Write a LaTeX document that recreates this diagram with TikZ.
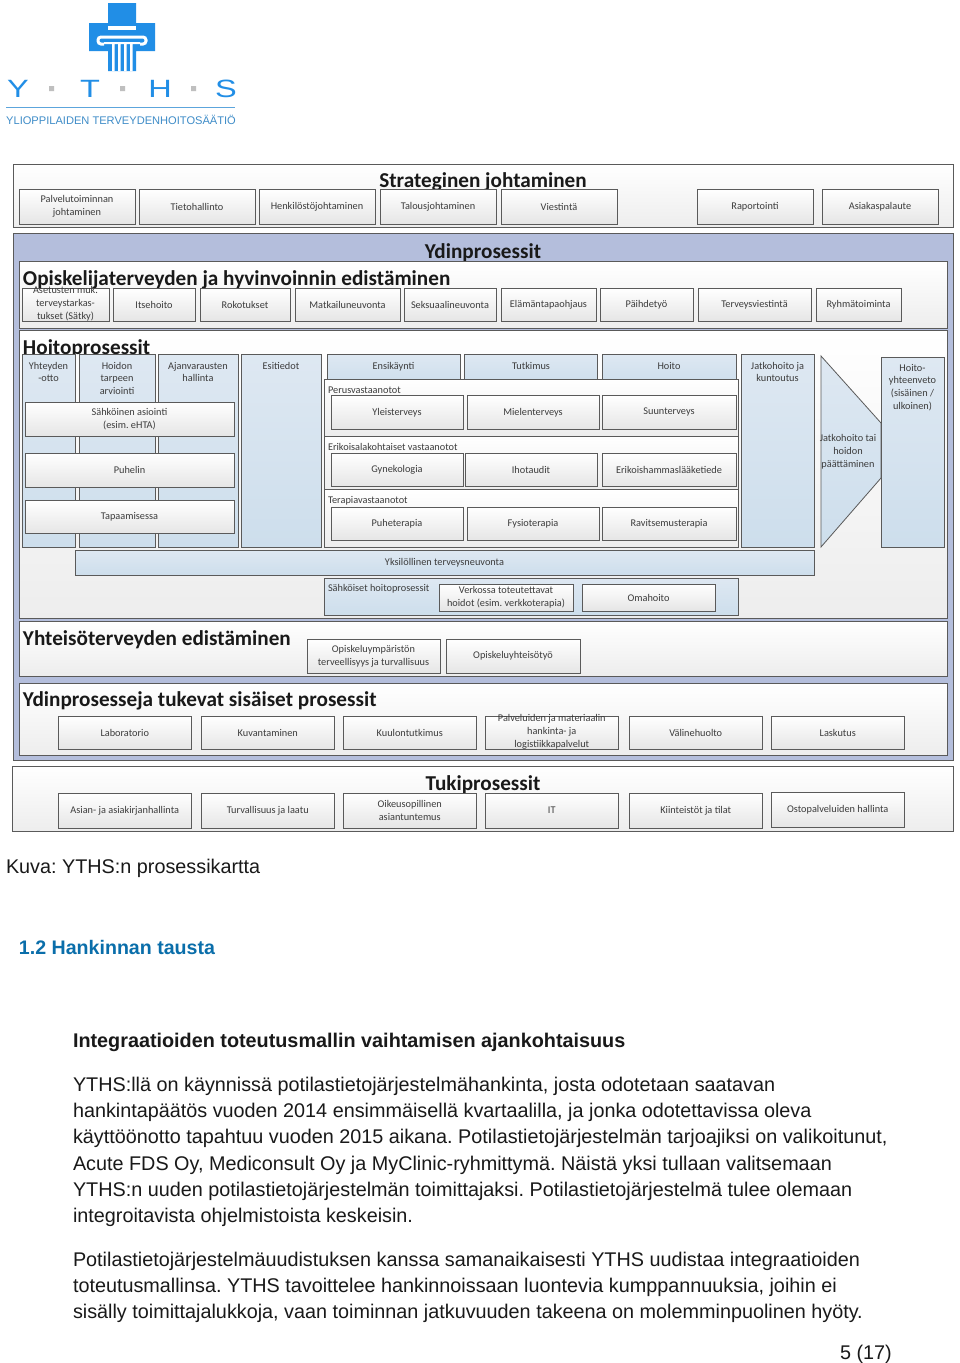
\documentclass[tikz,border=0pt]{standalone}
\usepackage{xcolor}
\usepackage{fontspec}
\setmainfont{Liberation Sans}
\newfontfamily\calibri{Carlito}
\usetikzlibrary{positioning}
\definecolor{ythsblue}{RGB}{33,142,230}
\definecolor{ythsline}{RGB}{92,165,220}
\definecolor{ythstext}{RGB}{62,140,200}
\definecolor{coreblue}{RGB}{180,190,220}
\definecolor{colblue}{RGB}{205,222,236}
\definecolor{collight}{RGB}{222,232,242}
\definecolor{labelgray}{RGB}{60,60,60}
\definecolor{edgegray}{RGB}{90,90,90}
\definecolor{headblue}{RGB}{10,110,170}
\frenchspacing
\begin{document}
\begin{tikzpicture}[x=1pt, y=-1pt, node distance=0pt,
  panel/.style={rectangle, draw=edgegray, line width=0.8pt, top color=white, bottom color=black!7, inner sep=0pt, outer sep=0pt, anchor=north west},
  pbox/.style={rectangle, draw=edgegray, line width=0.8pt, top color=white, bottom color=black!10, inner sep=0pt, outer sep=0pt, align=center, anchor=north west, text=labelgray, font=\calibri\fontsize{10.3}{12.8}\selectfont},
  colbox/.style={pbox, top color=collight, bottom color=colblue},
  lbl/.style={inner sep=0pt, outer sep=0pt, align=center, text=labelgray, font=\calibri\fontsize{10.3}{12.8}\selectfont},
  head/.style={inner sep=0pt, outer sep=0pt, text=black!90, font=\calibri\bfseries\fontsize{21.2}{23}\selectfont},
  strat/.style={pbox, minimum width=116pt, minimum height=35pt},
  tall/.style={pbox, minimum width=132pt, minimum height=33.5pt},
  wide/.style={pbox, minimum width=133.5pt, minimum height=33pt},
  body/.style={inner sep=0pt, outer sep=0pt, anchor=base west, align=left, text=black!90, font=\fontsize{19.8}{26.25}\selectfont}
]
\useasboundingbox (0,0) rectangle (960,1363);
\fill[white] (0,0) rectangle (960,1363);
\fill[ythsblue] (108,3) rectangle (136,23) (89,23) rectangle (155,51) (108,51) rectangle (136,71);
\fill[white] (108,26) rectangle (136,30);
\draw[white, line width=3pt, rounded corners=3pt] (104,44) -- (98,44) -- (98,37) -- (146,37) -- (146,44) -- (140,44);
\fill[white] (104,42) rectangle (140,44) (112,42) rectangle (114.5,71) (118,42) rectangle (120.5,71) (124,42) rectangle (126.5,71) (130,42) rectangle (132.5,71);
\node[inner sep=0pt, text=ythsblue, xscale=1.3, font=\fontsize{25}{25}\selectfont] (logoy) at (18,89) {Y};
\node[inner sep=0pt, text=ythsblue, xscale=1.3, font=\fontsize{25}{25}\selectfont] (logot) at (90,89) {T};
\node[inner sep=0pt, text=ythsblue, xscale=1.3, font=\fontsize{25}{25}\selectfont] (logoh) at (160,89) {H};
\node[inner sep=0pt, text=ythsblue, xscale=1.3, font=\fontsize{25}{25}\selectfont] (logos) at (226,89) {S};
\fill[black!25] (49,86) rectangle (54,91) (120,86) rectangle (125,91) (191,86) rectangle (196,91);
\fill[ythsline] (6,106.5) rectangle (235,107.5);
\node[inner sep=0pt, anchor=west, text=ythstext, font=\fontsize{11.1}{12}\selectfont] (logotext) at (6,120) {YLIOPPILAIDEN TERVEYDENHOITOSÄÄTIÖ};

\node[panel, minimum width=940pt, minimum height=63pt] (strategy) at (13,164) {};
\node[head] (strategyhead) at (483,182) {Strateginen johtaminen};
\node[strat] (s1) at (19,189) {Palvelutoiminnan\\johtaminen};
\node[strat, right=4pt of s1] (s2) {Tietohallinto};
\node[strat, right=4pt of s2] (s3) {Henkilöstöjohtaminen};
\node[strat, right=5pt of s3] (s4) {Talousjohtaminen};
\node[strat, right=5pt of s4] (s5) {Viestintä};
\node[strat, right=80pt of s5] (s6) {Raportointi};
\node[strat, right=9pt of s6] (s7) {Asiakaspalaute};

\node[panel, top color=coreblue, bottom color=coreblue, minimum width=940pt, minimum height=527pt] (core) at (13,233) {};
\node[head] (corehead) at (483,253) {Ydinprosessit};

\node[panel, minimum width=928pt, minimum height=67pt] (student) at (19,261) {};
\node[head, anchor=west] (studenthead) at (23,279.5) {Opiskelijaterveyden ja hyvinvoinnin edistäminen};
\node[pbox, minimum width=87pt, minimum height=33pt] (o1) at (22,288) {\raisebox{-3.5pt}{\smash{\begin{tabular}[c]{@{}c@{}}Asetusten muk.\\terveystarkas-\\tukset (Sätky)\end{tabular}}}};
\node[pbox, minimum width=82pt, minimum height=33pt, right=4pt of o1] (o2) {Itsehoito};
\node[pbox, minimum width=90pt, minimum height=33pt, right=5pt of o2] (o3) {Rokotukset};
\node[pbox, minimum width=105pt, minimum height=33pt, right=5pt of o3] (o4) {Matkailuneuvonta};
\node[pbox, minimum width=92pt, minimum height=33pt, right=4pt of o4] (o5) {Seksuaalineuvonta};
\node[pbox, minimum width=95pt, minimum height=33pt, right=5pt of o5] (o6) {Elämäntapaohjaus};
\node[pbox, minimum width=93pt, minimum height=33pt, right=4pt of o6] (o7) {Päihdetyö};
\node[pbox, minimum width=113pt, minimum height=33pt, right=5pt of o7] (o8) {Terveysviestintä};
\node[pbox, minimum width=85pt, minimum height=33pt, right=5pt of o8] (o9) {Ryhmätoiminta};

\node[panel, minimum width=928pt, minimum height=288pt] (care) at (19,330) {};
\node[head, anchor=west] (carehead) at (23,348.5) {Hoitoprosessit};
\node[colbox, minimum width=53pt, minimum height=193pt] (c1) at (22,354) {};
\node[colbox, minimum width=76pt, minimum height=193pt] (c2) at (79,354) {};
\node[colbox, minimum width=80pt, minimum height=193pt] (c3) at (158,354) {};
\node[colbox, minimum width=80pt, minimum height=193pt] (c4) at (241,354) {};
\node[colbox, minimum width=133pt, minimum height=30pt] (c5) at (327,354) {};
\node[colbox, minimum width=133pt, minimum height=30pt] (c6) at (464.5,354) {};
\node[colbox, minimum width=134pt, minimum height=30pt] (c7) at (602,354) {};
\node[colbox, minimum width=73pt, minimum height=193pt] (c8) at (741,354) {};
\node[lbl, below=8pt of c1.north] (c1text) {Yhteyden\\-otto};
\node[lbl, below=8pt of c2.north] (c2text) {Hoidon\\tarpeen\\arviointi};
\node[lbl, below=8pt of c3.north] (c3text) {Ajanvarausten\\hallinta};
\node[lbl, below=8pt of c4.north] (c4text) {Esitiedot};
\node[lbl, below=8pt of c5.north] (c5text) {Ensikäynti};
\node[lbl, below=8pt of c6.north] (c6text) {Tutkimus};
\node[lbl, below=8pt of c7.north] (c7text) {Hoito};
\node[lbl, below=8pt of c8.north] (c8text) {Jatkohoito ja\\kuntoutus};
\node[pbox, minimum width=209pt, minimum height=34pt] (w1) at (25,402) {Sähköinen asiointi\\(esim. eHTA)};
\node[pbox, minimum width=209pt, minimum height=34pt] (w2) at (25,453) {Puhelin};
\node[pbox, minimum width=209pt, minimum height=33pt] (w3) at (25,500.5) {Tapaamisessa};

\node[panel, minimum width=414pt, minimum height=57pt] (g1) at (324,379) {};
\node[lbl, anchor=west] (g1text) at (328,390) {Perusvastaanotot};
\node[tall] (p1) at (331,395.5) {Yleisterveys};
\node[tall, right=4pt of p1] (p2) {Mielenterveys};
\node[tall, minimum width=134pt, right=3pt of p2] (p3) {Suunterveys};
\node[panel, minimum width=414pt, minimum height=52.5pt] (g2) at (324,436.5) {};
\node[lbl, anchor=west] (g2text) at (328,447) {Erikoisalakohtaiset vastaanotot};
\node[tall] (e1) at (331,453) {Gynekologia};
\node[tall, right=2pt of e1] (e2) {Ihotaudit};
\node[tall, minimum width=134pt, right=5pt of e2] (e3) {Erikoishammaslääketiede};
\node[panel, minimum width=414pt, minimum height=58pt] (g3) at (324,489) {};
\node[lbl, anchor=west] (g3text) at (328,501) {Terapiavastaanotot};
\node[tall] (t1) at (331,507) {Puheterapia};
\node[tall, right=4pt of t1] (t2) {Fysioterapia};
\node[tall, minimum width=134pt, right=3pt of t2] (t3) {Ravitsemusterapia};

\coordinate (arrowtop) at (821,356);
\coordinate (arrowbottom) at (821,547);
\draw[edgegray, line width=0.8pt, top color=collight, bottom color=colblue] (arrowtop) -- (881,423) -- (881,478) -- (arrowbottom) -- cycle;
\node[lbl] (arrowtext) at (848,451.5) {Jatkohoito tai\\hoidon\\päättäminen};
\node[colbox, minimum width=63pt, minimum height=190pt] (c9) at (881,357) {};
\node[lbl, below=7pt of c9.north] (c9text) {Hoito-\\yhteenveto\\(sisäinen /\\ulkoinen)};

\node[colbox, minimum width=739pt, minimum height=25pt] (advice) at (75,550) {Yksilöllinen terveysneuvonta};
\node[colbox, minimum width=414pt, minimum height=37pt] (digital) at (324,578) {};
\node[lbl, anchor=west] (digitaltext) at (328,589) {Sähköiset hoitoprosessit};
\node[pbox, minimum width=134pt, minimum height=27pt] (d1) at (439,584) {Verkossa toteutettavat\\hoidot (esim. verkkoterapia)};
\node[pbox, minimum width=133pt, minimum height=27pt, right=9pt of d1] (d2) {Omahoito};

\node[panel, minimum width=928pt, minimum height=55pt] (community) at (19,621) {};
\node[head, anchor=west] (communityhead) at (23,639.5) {Yhteisöterveyden edistäminen};
\node[pbox, minimum width=133pt, minimum height=34pt] (y1) at (307,639) {Opiskeluympäristön\\terveellisyys ja turvallisuus};
\node[pbox, minimum width=134pt, minimum height=34pt, right=6pt of y1] (y2) {Opiskeluyhteisötyö};

\node[panel, minimum width=928pt, minimum height=72pt] (internal) at (19,683) {};
\node[head, anchor=west] (internalhead) at (23,701) {Ydinprosesseja tukevat sisäiset prosessit};
\node[wide] (i1) at (58,716) {Laboratorio};
\node[wide, right=9.5pt of i1] (i2) {Kuvantaminen};
\node[wide, right=8.5pt of i2] (i3) {Kuulontutkimus};
\node[wide, right=8.5pt of i3] (i4) {\raisebox{-3.5pt}{\smash{\begin{tabular}[c]{@{}c@{}}Palveluiden ja materiaalin\\hankinta- ja\\logistiikkapalvelut\end{tabular}}}};
\node[wide, right=10.5pt of i4] (i5) {Välinehuolto};
\node[wide, right=8.5pt of i5] (i6) {Laskutus};

\node[panel, minimum width=941pt, minimum height=65pt] (support) at (12,766) {};
\node[head] (supporthead) at (483,785) {Tukiprosessit};
\node[wide, minimum height=35pt] (u1) at (58,793) {Asian- ja asiakirjanhallinta};
\node[wide, minimum height=35pt, right=9.5pt of u1] (u2) {Turvallisuus ja laatu};
\node[wide, minimum height=35pt, right=8.5pt of u2] (u3) {Oikeusopillinen\\asiantuntemus};
\node[wide, minimum height=35pt, right=8.5pt of u3] (u4) {IT};
\node[wide, minimum height=35pt, right=10.5pt of u4] (u5) {Kiinteistöt ja tilat};
\node[wide, minimum height=35pt] (u6) at (771,792) {Ostopalveluiden hallinta};

\node[body] (caption) at (6,873) {Kuva: YTHS:n prosessikartta};
\node[body, text=headblue, font=\bfseries\fontsize{19.6}{26.25}\selectfont] (section) at (19,954) {1.2 Hankinnan tausta};
\node[body, font=\bfseries\fontsize{19.8}{26.25}\selectfont] (subhead) at (73,1047) {Integraatioiden toteutusmallin vaihtamisen ajankohtaisuus};
\node[body, anchor=north west] (para1) at (73,1077) {YTHS:llä on käynnissä potilastietojärjestelmähankinta, josta odotetaan saatavan\\hankintapäätös vuoden 2014 ensimmäisellä kvartaalilla, ja jonka odotettavissa oleva\\käyttöönotto tapahtuu vuoden 2015 aikana. Potilastietojärjestelmän tarjoajiksi on valikoitunut,\\Acute FDS Oy, Mediconsult Oy ja MyClinic-ryhmittymä. Näistä yksi tullaan valitsemaan\\YTHS:n uuden potilastietojärjestelmän toimittajaksi. Potilastietojärjestelmä tulee olemaan\\integroitavista ohjelmistoista keskeisin.};
\node[body, anchor=north west] (para2) at (73,1252) {Potilastietojärjestelmäuudistuksen kanssa samanaikaisesti YTHS uudistaa integraatioiden\\toteutusmallinsa. YTHS tavoittelee hankinnoissaan luontevia kumppannuuksia, joihin ei\\sisälly toimittajalukkoja, vaan toiminnan jatkuvuuden takeena on molemminpuolinen hyöty.};
\node[body] (pagenum) at (840,1359) {5 (17)};
\end{tikzpicture}
\end{document}
